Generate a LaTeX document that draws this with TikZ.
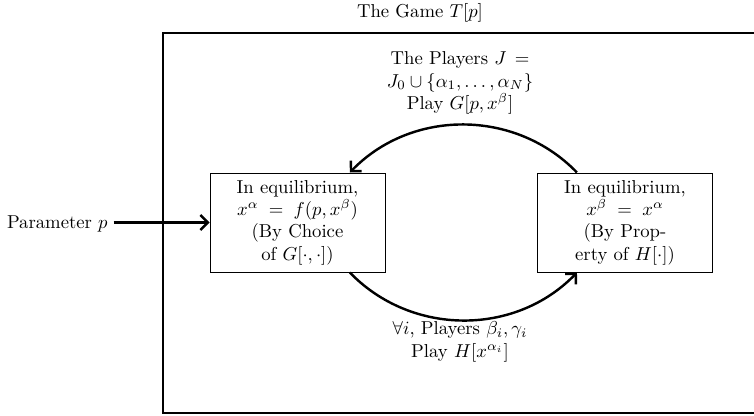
\documentclass[tikz,border=0pt]{standalone}
\usetikzlibrary{arrows.meta}
\begin{document}
\begin{tikzpicture}[x=0.535pt,y=-0.535pt,
  box/.style={draw, line width=0.5pt, align=center, inner sep=0pt,
    minimum width=93.6pt, minimum height=53pt},
  conn/.style={line width=1.3pt, -{Straight Barb[length=4pt,width=8pt]}},
  lbl/.style={align=center, inner sep=0pt}]
\useasboundingbox (0,0) rectangle (754,415);
\node[lbl] (title) at (420,13) {The Game $T[p]$};
\draw[line width=0.6pt] (163,33) rectangle (780,413);
\node[box] (L) at (297.5,222.5) {In equilibrium,\\ $x^\alpha \;=\; f(p,x^\beta)$\\ (By Choice\\ of $G[\cdot,\cdot]$)};
\node[box] (R) at (625,222.5) {In equilibrium,\\ $x^\beta \;=\; x^\alpha$\\ (By Prop-\\ erty of $H[\cdot]$)};
\node[lbl, anchor=base east] (P) at (108,228) {Parameter $p$};
\coordinate (Ps) at ([xshift=3pt]P.east |- L.west);
\coordinate (Lt) at ([xshift=28pt]L.north);
\coordinate (Lb) at ([xshift=28pt]L.south);
\coordinate (Rt) at ([xshift=-25.7pt]R.north);
\coordinate (Rb) at ([xshift=-25.7pt]R.south);
\draw[conn] (Ps) -- (L.west);
\draw[conn] (Rt) to[bend right=46] (Lt);
\draw[conn] (Lb) to[bend right=46] (Rb);
\node[lbl] (up) at (460,83) {The Players $J\,=$\\ $J_0\cup\{\alpha_1,\ldots,\alpha_N\}$\\ Play $G[p,x^\beta]$};
\node[lbl] (dn) at (460,342) {$\forall i$, Players $\beta_i,\gamma_i$\\ Play $H[x^{\alpha_i}]$};
\end{tikzpicture}
\end{document}
